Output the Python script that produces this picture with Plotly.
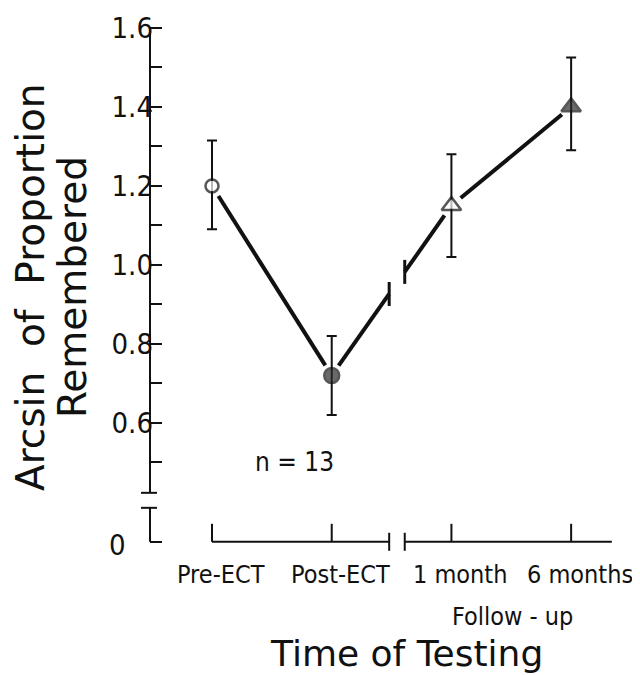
import numpy as np
import plotly.graph_objects as go

# ---------------- data ----------------
categories = ["Pre-ECT", "Post-ECT", "1 month", "6 months"]
means = [1.20, 0.72, 1.15, 1.40]
err_plus = [0.115, 0.10, 0.13, 0.125]
err_minus = [0.11, 0.10, 0.13, 0.11]
marker_symbols = ["circle", "circle", "triangle-up", "triangle-up"]
marker_fills = ["white", "#2a2a2a", "white", "#2a2a2a"]
y_major_vals = [0.6, 0.8, 1.0, 1.2, 1.4, 1.6]
y_major_text = ["0.6", "0.8", "1.0", "1.2", "1.4", "1.6"]
y_minor_vals = [0.5, 0.7, 0.9, 1.1, 1.3, 1.5]
y_zero_text = "0"
group_label = "Follow - up"
n_label = "n = 13"
x_title = "Time of Testing"
y_title_lines = ["Arcsin\u00a0\u00a0of\u00a0\u00a0Proportion", "Remembered"]

# ---------------- layout constants ----------------
W, H = 632, 667          # page body adds an 8 px margin
L, R, T, B = 142, 15, 12, 102
XR = [-0.518, 3.45]
YR = [0.22, 1.62]
Y_ZERO = 0.299            # where the "0" of the broken axis sits
Y_BREAK = (0.385, 0.423)  # broken y-axis gap
X_BREAK = (1.48, 1.61)    # broken x-axis / line gap
X_AXIS_END = 3.34
GAP = 12                  # px gap between line and markers
INK = "#111111"
NARROW = "DejaVu Sans Condensed, Liberation Sans Narrow, Roboto Condensed, sans-serif"
WIDE = "DejaVu Sans, Verdana, sans-serif"

px_x = (W - L - R) / (XR[1] - XR[0])
px_y = (H - T - B) / (YR[1] - YR[0])

xs = list(range(len(categories)))


def shorten(p, q, gp, gq):
    dx = (q[0] - p[0]) * px_x
    dy = (q[1] - p[1]) * px_y
    d = np.hypot(dx, dy)
    ux, uy = dx / d, dy / d
    p2 = (p[0] + ux * gp / px_x, p[1] + uy * gp / px_y)
    q2 = (q[0] - ux * gq / px_x, q[1] - uy * gq / px_y)
    return p2, q2


pts = list(zip(xs, means))
yb0 = float(np.interp(X_BREAK[0], [xs[1], xs[2]], [means[1], means[2]]))
yb1 = float(np.interp(X_BREAK[1], [xs[1], xs[2]], [means[1], means[2]]))
segs = [
    shorten(pts[0], pts[1], GAP, GAP),
    shorten(pts[1], (X_BREAK[0], yb0), GAP, 0),
    shorten((X_BREAK[1], yb1), pts[2], 0, GAP),
    shorten(pts[2], pts[3], GAP, GAP),
]
lx, ly = [], []
for a, b in segs:
    lx += [a[0], b[0], None]
    ly += [a[1], b[1], None]

fig = go.Figure()
fig.add_trace(go.Scatter(x=lx, y=ly, mode="lines",
                         line=dict(color=INK, width=4), hoverinfo="skip",
                         showlegend=False))
fig.add_trace(go.Scatter(
    x=xs, y=means, mode="markers",
    marker=dict(symbol=marker_symbols, color=marker_fills,
                size=[13, 15, 17, 17], line=dict(color=INK, width=2.5)),
    error_y=dict(type="data", array=err_plus, arrayminus=err_minus,
                 symmetric=False, color=INK, thickness=2, width=5),
    showlegend=False))

shapes = []
lw = dict(color=INK, width=2)
# y axis (broken)
shapes.append(dict(type="line", xref="paper", yref="y", x0=0, x1=0,
                   y0=Y_BREAK[1], y1=y_major_vals[-1], line=lw))
shapes.append(dict(type="line", xref="paper", yref="y", x0=0, x1=0,
                   y0=Y_ZERO, y1=Y_BREAK[0], line=lw))
for yb in Y_BREAK:
    shapes.append(dict(type="line", xref="paper", yref="y", xsizemode="pixel",
                       xanchor=0, x0=-9, x1=7, y0=yb, y1=yb, line=lw))
# x axis (broken)
shapes.append(dict(type="line", xref="x", yref="y", x0=xs[0], x1=X_BREAK[0],
                   y0=Y_ZERO, y1=Y_ZERO, line=lw))
shapes.append(dict(type="line", xref="x", yref="y", x0=X_BREAK[1], x1=X_AXIS_END,
                   y0=Y_ZERO, y1=Y_ZERO, line=lw))
for xb in X_BREAK:
    shapes.append(dict(type="line", xref="x", yref="y", ysizemode="pixel",
                       yanchor=Y_ZERO, x0=xb, x1=xb, y0=-9, y1=9, line=lw))
for xv in xs:
    shapes.append(dict(type="line", xref="x", yref="y", ysizemode="pixel",
                       yanchor=Y_ZERO, x0=xv, x1=xv, y0=0, y1=18, line=lw))
# break marks on the data line
for xb, yb in zip(X_BREAK, (yb0, yb1)):
    shapes.append(dict(type="line", xref="x", yref="y", ysizemode="pixel",
                       yanchor=yb, x0=xb, x1=xb, y0=-12, y1=12,
                       line=dict(color=INK, width=3)))

ann = []
for xv, lab in zip(xs, categories):
    ann.append(dict(x=xv, y=Y_ZERO, xref="x", yref="y", text=lab, showarrow=False,
                    xanchor="center", yanchor="middle", xshift=9, yshift=-33,
                    font=dict(family=NARROW, size=25, color=INK)))
ann.append(dict(x=(xs[2] + xs[3]) / 2, y=Y_ZERO, xref="x", yref="y", text=group_label,
                showarrow=False, xanchor="center", yanchor="middle", xshift=1, yshift=-75,
                font=dict(family=NARROW, size=25, color=INK)))
ann.append(dict(x=0.69, y=0.50, xref="x", yref="y", text=n_label, showarrow=False,
                xanchor="center", yanchor="middle",
                font=dict(family=NARROW, size=26, color=INK)))
ann.append(dict(x=0, y=Y_ZERO, xref="paper", yref="y", text=y_zero_text, showarrow=False,
                xanchor="center", yanchor="middle", xshift=-33, yshift=-3,
                font=dict(family=NARROW, size=29, color=INK)))
ann.append(dict(x=0.539, y=Y_ZERO, xref="paper", yref="y", text=x_title,
                showarrow=False, xanchor="center", yanchor="middle", yshift=-112,
                font=dict(family=WIDE, size=36, color=INK)))
for shift, txt in zip((-120, -78), y_title_lines):
    ann.append(dict(x=0, y=0.944, xref="paper", yref="y", text=txt, showarrow=False,
                    textangle=-90, xshift=shift, xanchor="center", yanchor="middle",
                    font=dict(family=WIDE, size=39, color=INK)))

fig.update_layout(
    width=W, height=H, margin=dict(l=L, r=R, t=T, b=B, autoexpand=False),
    paper_bgcolor="white", plot_bgcolor="white",
    xaxis=dict(range=XR, visible=False, fixedrange=True, automargin=False),
    yaxis=dict(range=YR, showline=False, showgrid=False, zeroline=False,
               automargin=False,
               tickmode="array", tickvals=[Y_ZERO] + y_major_vals,
               ticktext=[""] + y_major_text, ticks="inside", ticklen=12,
               tickwidth=2, tickcolor=INK, ticklabelstandoff=-4,
               tickfont=dict(family=NARROW, size=29, color=INK),
               minor=dict(tickvals=y_minor_vals, ticks="inside", ticklen=12,
                          tickwidth=2, tickcolor=INK, showgrid=False)),
    shapes=shapes, annotations=ann,
)

fig.write_html("out.html")
